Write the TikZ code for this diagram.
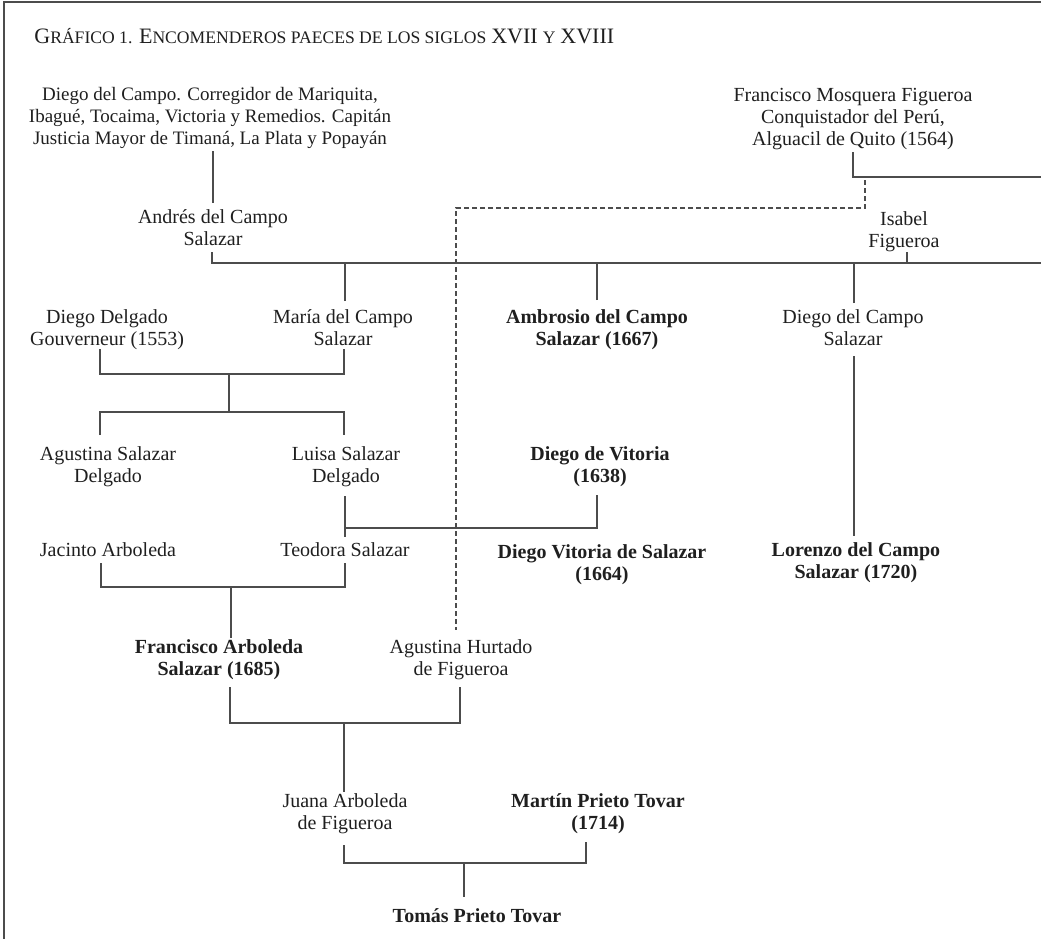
\documentclass[tikz,border=0pt]{standalone}
\usepackage{fontspec}
\setmainfont{Liberation Serif}
\newcommand{\tl}[1]{\begin{tabular}[t]{@{}c@{}}#1\end{tabular}}
\newcommand{\BigC}[1]{{\fontsize{11}{12}\selectfont #1}}
\newcommand{\SmC}[1]{{\fontsize{8.8}{12}\selectfont #1}}
\definecolor{ink}{gray}{0.12}
\definecolor{linec}{gray}{0.3}
\begin{document}
\begin{tikzpicture}[x=0.5pt,y=-0.5pt,
  person/.style={anchor=base, inner sep=0pt, outer sep=0pt, text=ink, font=\fontsize{10}{11}\selectfont},
  bperson/.style={person, font=\fontsize{10}{11}\selectfont\bfseries},
  link/.style={draw=linec, line width=0.65pt},
  dlink/.style={link, dash pattern=on 2.5pt off 1.5pt},
  frame/.style={draw=linec, line width=1pt}]
\useasboundingbox (0,0) rectangle (1041,939);
% frame
\coordinate (frTL) at (4,2);
\coordinate (frTR) at (1041,2);
\coordinate (frBL) at (4,939);
\draw[frame] (frBL) -- (frTL) -- (frTR);
% title
\node[anchor=base west, inner sep=0pt, text=ink] (title) at (34,43)
 {\BigC{G}\SmC{RÁFICO 1.} \BigC{E}\SmC{NCOMENDEROS PAECES DE LOS SIGLOS} \BigC{XVII} \SmC{Y} \BigC{XVIII}};
% people
\node[person, font=\fontsize{9.5}{11}\selectfont] (dcampo) at (210,100) {\tl{Diego del Campo. Corregidor de Mariquita,\\Ibagué, Tocaima, Victoria y Remedios. Capitán\\Justicia Mayor de Timaná, La Plata y Popayán}};
\node[person] (mosquera) at (853,101) {\tl{Francisco Mosquera Figueroa\\Conquistador del Perú,\\Alguacil de Quito (1564)}};
\node[person] (andres) at (213,223) {\tl{Andrés del Campo\\Salazar}};
\node[person] (isabel) at (904,225) {\tl{Isabel\\Figueroa}};
\node[person] (ddelgado) at (107,323) {\tl{Diego Delgado\\Gouverneur (1553)}};
\node[person] (maria) at (343,323) {\tl{María del Campo\\Salazar}};
\node[bperson] (ambrosio) at (597,323) {\tl{Ambrosio del Campo\\Salazar (1667)}};
\node[person] (dcsalazar) at (853,323) {\tl{Diego del Campo\\Salazar}};
\node[person] (agustinasd) at (108,460) {\tl{Agustina Salazar\\Delgado}};
\node[person] (luisa) at (346,460) {\tl{Luisa Salazar\\Delgado}};
\node[bperson] (vitoria) at (600,460) {\tl{Diego de Vitoria\\(1638)}};
\node[person] (jacinto) at (108,556) {Jacinto Arboleda};
\node[person] (teodora) at (345,556) {Teodora Salazar};
\node[bperson] (dvsalazar) at (602,558) {\tl{Diego Vitoria de Salazar\\(1664)}};
\node[bperson] (lorenzo) at (856,556) {\tl{Lorenzo del Campo\\Salazar (1720)}};
\node[bperson] (farboleda) at (219,653) {\tl{Francisco Arboleda\\Salazar (1685)}};
\node[person] (ahurtado) at (461,653) {\tl{Agustina Hurtado\\de Figueroa}};
\node[person] (juana) at (345,807) {\tl{Juana Arboleda\\de Figueroa}};
\node[bperson] (martin) at (598,807) {\tl{Martín Prieto Tovar\\(1714)}};
\node[bperson] (tomas) at (477,922) {Tomás Prieto Tovar};
% connectors
\coordinate (dcampoB) at (213,151);
\coordinate (andresT) at (213,203);
\draw[link] (dcampoB) -- (andresT);
\coordinate (andresB) at (212,252);
\coordinate (gen1R) at (1041,263);
\draw[link] (andresB) |- (gen1R);
\coordinate (isabelB) at (907,252);
\draw[link] (isabelB) -- (isabelB |- gen1R);
\coordinate (mariaT) at (345,301);
\draw[link] (mariaT) -- (mariaT |- gen1R);
\coordinate (ambrosioT) at (597,300);
\draw[link] (ambrosioT) -- (ambrosioT |- gen1R);
\coordinate (dcsalazarT) at (854,303);
\draw[link] (dcsalazarT) -- (dcsalazarT |- gen1R);
\coordinate (mosqueraB) at (853,152);
\coordinate (mosqueraR) at (1041,177);
\draw[link] (mosqueraB) |- (mosqueraR);
\coordinate (mosqueraD) at (865,180);
\coordinate (ahurtadoT) at (456,630);
\draw[dlink] (mosqueraD) -- ++(0,28) -| (ahurtadoT);
% Diego Delgado + Maria
\coordinate (ddelgadoB) at (100,349);
\coordinate (mariaB) at (344,349);
\draw[link] (ddelgadoB) -- ++(0,25) -| (mariaB);
\coordinate (cpl1) at (229,374);
\coordinate (sib1) at (229,412);
\draw[link] (cpl1) -- (sib1);
\coordinate (agustinasdT) at (100,435);
\coordinate (luisaT) at (344,435);
\draw[link] (agustinasdT) |- (sib1) -| (luisaT);
% Diego del Campo Salazar -> Lorenzo
\coordinate (dcsalazarB) at (854,356);
\coordinate (lorenzoT) at (854,536);
\draw[link] (dcsalazarB) -- (lorenzoT);
% Luisa + Diego de Vitoria
\coordinate (luisaB) at (345,496);
\coordinate (teodoraT) at (345,537);
\draw[link] (luisaB) -- (teodoraT);
\coordinate (cpl2) at (345,528);
\coordinate (vitoriaB) at (597,495);
\draw[link] (vitoriaB) |- (cpl2);
% Jacinto + Teodora
\coordinate (jacintoB) at (101,563);
\coordinate (teodoraB) at (345,563);
\draw[link] (jacintoB) -- ++(0,24) -| (teodoraB);
\coordinate (cpl3) at (231,587);
\coordinate (farboledaT) at (231,638);
\draw[link] (cpl3) -- (farboledaT);
% Francisco Arboleda + Agustina Hurtado
\coordinate (farboledaB) at (230,687);
\coordinate (ahurtadoB) at (460,687);
\draw[link] (farboledaB) -- ++(0,36) -| (ahurtadoB);
\coordinate (cpl4) at (344,723);
\coordinate (juanaT) at (344,792);
\draw[link] (cpl4) -- (juanaT);
% Juana + Martin
\coordinate (juanaB) at (344,845);
\coordinate (martinB) at (586,842);
\draw[link] (juanaB) -- ++(0,18) -| (martinB);
\coordinate (cpl5) at (464,863);
\coordinate (tomasT) at (464,897);
\draw[link] (cpl5) -- (tomasT);
\end{tikzpicture}
\end{document}
